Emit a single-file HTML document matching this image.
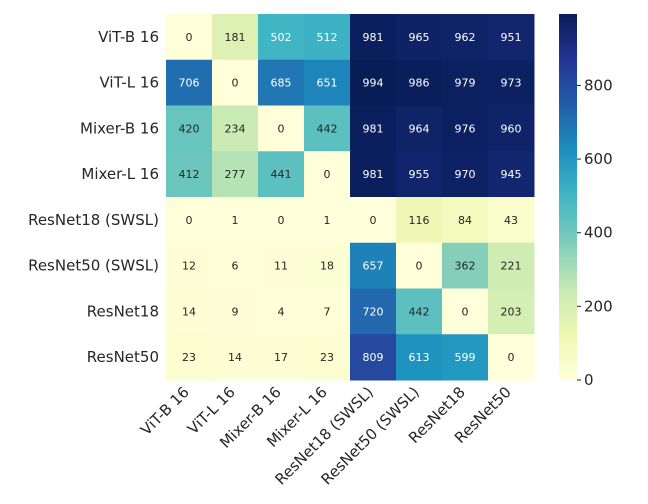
<!DOCTYPE html>
<html><head><meta charset="utf-8"><style>
body{margin:0;background:#fff;}
svg{display:block;font-family:"DejaVu Sans","Liberation Sans",sans-serif;}
</style></head><body>
<svg id="chart" width="648" height="504" viewBox="0 0 648 504">
<defs><linearGradient id="cbg" x1="0" y1="1" x2="0" y2="0"></linearGradient></defs>
<g id="cells"></g>
<g id="ylabels"></g>
<g id="xlabels"></g>
<rect id="cbar" x="559" width="18" fill="url(#cbg)"></rect>
<g id="cticks"></g>
</svg>
<script>
const rowLabels=["ViT-B 16","ViT-L 16","Mixer-B 16","Mixer-L 16","ResNet18 (SWSL)","ResNet50 (SWSL)","ResNet18","ResNet50"];
const colLabels=["ViT-B 16","ViT-L 16","Mixer-B 16","Mixer-L 16","ResNet18 (SWSL)","ResNet50 (SWSL)","ResNet18","ResNet50"];
const values=[
[0,181,502,512,981,965,962,951],
[706,0,685,651,994,986,979,973],
[420,234,0,442,981,964,976,960],
[412,277,441,0,981,955,970,945],
[0,1,0,1,0,116,84,43],
[12,6,11,18,657,0,362,221],
[14,9,4,7,720,442,0,203],
[23,14,17,23,809,613,599,0]];
const cbTicks=[0,200,400,600,800];
const stops=["#ffffd9","#edf8b1","#c7e9b4","#7fcdbb","#41b6c4","#1d91c0","#225ea8","#253494","#081d58"];
const NS="http://www.w3.org/2000/svg";
const vmin=0,vmax=Math.max(...values.flat());
const x0=166,cw=46,y0=14,plotH=366,rh=plotH/rowLabels.length;
const cbTop=y0,cbBot=y0+plotH;
function xPos(i){return x0+i*cw;}
function yPos(j){return y0+j*rh;}
function cbY(v){return cbBot-(v-vmin)/(vmax-vmin)*(cbBot-cbTop);}
function hex(h){return [1,3,5].map(k=>parseInt(h.substr(k,2),16));}
function color(v){let t=(v-vmin)/(vmax-vmin)*(stops.length-1);let i=Math.min(Math.floor(t),stops.length-2);let f=t-i;let a=hex(stops[i]),b=hex(stops[i+1]);return a.map((c,k)=>Math.round(c+(b[k]-c)*f));}
function lum(c){const l=c.map(x=>{x/=255;return x<=0.03928?x/12.92:Math.pow((x+0.055)/1.055,2.4)});return 0.2126*l[0]+0.7152*l[1]+0.0722*l[2];}
function mk(tag,attrs,parent){const e=document.createElementNS(NS,tag);for(const k in attrs)e.setAttribute(k,attrs[k]);parent.appendChild(e);return e;}
const cells=document.getElementById('cells');
values.forEach((row,j)=>row.forEach((v,i)=>{
 const c=color(v);
 const r=mk('rect',{x:xPos(i),y:yPos(j),width:cw+0.5,height:rh+0.5,fill:`rgb(${c})`},cells);
 
 
 const t=mk('text',{x:xPos(i)+cw/2,y:yPos(j)+rh/2+4,'text-anchor':'middle','font-size':'11',fill:lum(c)<0.408?'#ffffff':'#262626'},cells);
 t.textContent=v;
 
 
}));
const yl=document.getElementById('ylabels');
rowLabels.forEach((s,j)=>{
 const t=mk('text',{x:159,y:yPos(j)+rh/2+5,'text-anchor':'end','font-size':'15',fill:'#262626'},yl);
 t.textContent=s;
 
 
});
const xl=document.getElementById('xlabels');
colLabels.forEach((s,i)=>{
 const cx=xPos(i)+cw/2+1,cy=393;
 const t=mk('text',{x:cx,y:cy,'text-anchor':'end','font-size':'15',fill:'#262626',transform:`rotate(-45 ${cx} ${cy})`},xl);
 t.textContent=s;
 
 
});
const g=document.getElementById('cbg');
stops.forEach((s,k)=>{mk('stop',{offset:(k/(stops.length-1)),'stop-color':s},g);});
const cb=document.getElementById('cbar');cb.setAttribute('y',cbTop);cb.setAttribute('height',cbBot-cbTop);
const ct=document.getElementById('cticks');
cbTicks.forEach(v=>{
 const y=cbY(v);
 const l=mk('line',{x1:577,x2:581,y1:y,y2:y,stroke:'#262626','stroke-width':'1'},ct);
 
 
 const t=mk('text',{x:584,y:y+5,'font-size':'15',fill:'#262626'},ct);
 t.textContent=v;
 
 
});
</script>
</body></html>
